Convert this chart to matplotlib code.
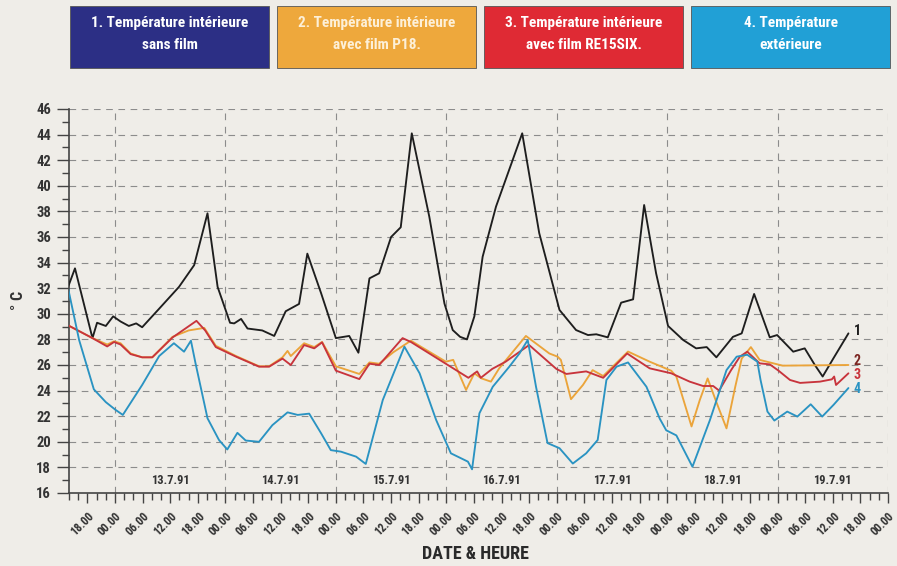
import matplotlib
matplotlib.use("Agg")
import matplotlib.pyplot as plt
from matplotlib import font_manager
from matplotlib.patches import Rectangle
from matplotlib.ticker import MultipleLocator, FixedLocator

# hours counted from 12.7.91 00.00
h1 = [13.8, 15.3, 19.1, 20.1, 22.0, 23.6, 25.2, 27.0, 28.6, 29.9, 33.6, 37.9, 41.2, 44.1,
      46.3, 49.0, 49.9, 51.4, 52.8, 56.0, 58.6, 61.1, 64.0, 65.8, 68.8, 72.0, 74.9, 76.9,
      79.3, 81.4, 84.0, 86.1, 88.5, 92.3, 95.6, 97.4, 99.0, 100.5, 102.1, 103.9, 106.8, 112.5,
      116.2, 120.6, 124.2, 126.8, 128.6, 131.1, 134.0, 136.6, 139.0, 141.6, 144.2, 147.5,
      150.3, 152.6, 154.7, 158.3, 160.2, 162.9, 166.3, 167.9, 171.4, 173.9, 176.1, 177.8,
      180.1, 183.4]
t1 = [32.1, 33.55, 28.1, 29.3, 29.05, 29.8, 29.4, 29.05, 29.25, 28.95, 30.4, 32.1, 33.8, 37.85,
      32.1, 29.3, 29.25, 29.6, 28.85, 28.7, 28.27, 30.2, 30.77, 34.7, 31.6, 28.1, 28.27, 26.96,
      32.77, 33.16, 36.0, 36.76, 44.1, 37.6, 30.8, 28.73, 28.2, 28.0, 29.8, 34.46, 38.37, 44.1,
      36.3, 30.3, 28.73, 28.34, 28.4, 28.16, 30.87, 31.13, 38.5, 33.16, 29.05, 27.95,
      27.3, 27.4, 26.6, 28.2, 28.47, 31.55, 28.16, 28.34, 27.04, 27.3, 26.0, 25.1,
      26.5, 28.47]

h2 = [13.8, 19.1, 22.3, 23.8, 25.2, 27.4, 29.9, 32.1, 36.5, 40.0, 43.4, 45.9, 50.3, 55.3,
      57.5, 60.4, 61.5, 62.2, 65.1, 67.3, 69.0, 72.0, 77.1, 79.3, 81.4, 84.5, 88.3, 95.9,
      97.5, 100.3, 102.1, 103.6, 105.7, 107.5, 113.3, 118.4, 120.2, 120.9, 123.1, 125.7,
      127.8, 130.1, 135.5, 140.2, 144.9, 146.0, 149.3, 151.1, 152.8, 154.7, 156.9, 158.8,
      160.2, 162.2, 164.1, 166.3, 169.1, 183.4]
t2 = [29.1, 28.1, 27.6, 27.85, 27.7, 26.9, 26.6, 26.6, 28.2, 28.7, 28.9, 27.5, 26.7, 25.9,
      25.9, 26.6, 27.1, 26.7, 27.7, 27.4, 27.8, 25.9, 25.3, 26.2, 26.1, 27.0, 27.9, 26.26,
      26.4, 24.05, 25.35, 24.96, 24.7, 25.74, 28.27, 26.9, 26.65, 26.4, 23.33, 24.44,
      25.6, 25.14, 27.05, 26.26, 25.55, 25.1, 21.2, 23.27, 24.95, 23.1, 21.05, 24.3,
      26.5, 27.4, 26.4, 26.2, 25.95, 26.0]

h3 = [13.8, 19.1, 22.3, 23.8, 25.2, 27.4, 29.9, 32.1, 36.5, 41.7, 43.6, 45.9, 50.3, 55.3,
      57.5, 60.4, 62.2, 65.1, 67.3, 69.0, 72.0, 77.1, 79.3, 81.4, 86.5, 88.3, 100.8, 102.7,
      103.5, 106.0, 108.9, 114.0, 119.9, 122.1, 126.4, 130.1, 135.3, 140.2, 144.9, 148.9,
      151.8, 154.0, 155.3, 157.9, 159.8, 161.4, 164.1, 166.3, 168.2, 170.7, 172.9, 177.2,
      179.8, 180.3, 180.7, 183.4]
t3 = [29.1, 28.1, 27.45, 27.8, 27.6, 26.85, 26.6, 26.6, 28.15, 29.45, 28.7, 27.4, 26.65, 25.87,
      25.87, 26.5, 26.0, 27.56, 27.3, 27.77, 25.56, 24.9, 26.1, 26.0, 28.1, 27.8, 25.0, 25.5,
      25.0, 25.7, 26.26, 27.56, 25.7, 25.3, 25.5, 25.0, 26.9, 25.74, 25.35, 24.7,
      24.36, 24.36, 24.0, 25.6, 26.65, 27.04, 26.13, 26.05, 25.56, 24.83, 24.6, 24.7,
      24.88, 25.1, 24.44, 25.35]

h4 = [13.8, 16.2, 19.4, 22.0, 24.1, 25.7, 29.9, 33.6, 36.8, 39.0, 40.5, 41.5, 44.1, 46.6,
      48.4, 50.6, 52.4, 55.3, 58.2, 61.5, 63.7, 66.2, 68.8, 70.9, 73.1, 76.4, 78.5, 82.2,
      86.9, 90.2, 93.8, 97.0, 100.7, 101.6, 103.2, 106.1, 109.7, 111.9, 113.7, 115.5, 118.0,
      120.6, 123.5, 126.4, 128.9, 130.8, 133.0, 135.5, 139.5, 142.4, 143.8, 146.0, 149.5,
      153.3, 156.9, 159.1, 161.4, 163.6, 164.3, 165.8, 167.3, 170.1, 172.3, 175.2, 177.7,
      180.2, 183.4]
t4 = [32.0, 27.95, 24.1, 23.1, 22.5, 22.1, 24.44, 26.7, 27.7, 27.04, 27.9, 26.13, 21.84, 20.14,
      19.4, 20.7, 20.1, 20.0, 21.3, 22.3, 22.1, 22.2, 20.66, 19.35, 19.23, 18.84, 18.27, 23.27,
      27.43, 25.35, 21.7, 19.1, 18.45, 17.85, 22.23, 24.3, 25.87, 26.9, 27.95, 24.3, 19.9,
      19.5, 18.3, 19.1, 20.14, 24.83, 25.87, 26.2, 24.3, 21.8, 20.9, 20.5, 18.05,
      21.7, 25.6, 26.65, 26.8, 26.26, 24.83, 22.36, 21.66, 22.36, 21.97, 22.93, 21.97,
      22.9, 24.2]

legend_texts = ["1. Température intérieure\nsans film",
                "2. Température intérieure\navec film P18.",
                "3. Température intérieure\navec film RE15SIX.",
                "4. Température\nextérieure"]
legend_colors = ["#2c2f85", "#eea83c", "#df2a34", "#21a0d6"]
legend_text_colors = ["white", "#fdf0d8", "white", "white"]

line_colors = ["#1e1e1e", "#eba43a", "#c8343c", "#2a93c2"]
end_labels = ["1", "2", "3", "4"]
end_label_colors = ["#1e1e1e", "#7c2622", "#c8343c", "#2a93c2"]
end_label_y = [28.65, 26.35, 25.25, 24.1]

days = ["13.7.91", "14.7.91", "15.7.91", "16.7.91", "17.7.91", "18.7.91", "19.7.91"]
day_centres = [36, 60, 84, 108, 132, 156, 180]
hour_ticks = list(range(18, 193, 6))
hour_labels = ["%02d.00" % (h % 24) for h in hour_ticks]

names = {f.name for f in font_manager.fontManager.ttflist}
font = "DejaVu Sans"
for cand in ["Roboto Condensed", "Liberation Sans Narrow", "Open Sans Condensed"]:
    if cand in names:
        font = cand
        break
plt.rcParams["font.family"] = [font, "DejaVu Sans"]

bg = "#efede8"
W, H = 897, 566
fig = plt.figure(figsize=(W / 100, H / 100), dpi=100, facecolor=bg)
ax = fig.add_axes([69 / W, 1 - 493 / H, (888 - 69) / W, (493 - 109) / H])
ax.set_facecolor(bg)

# legend boxes
box_x = [70, 277, 484, 691]
for x0, txt, col, tcol in zip(box_x, legend_texts, legend_colors, legend_text_colors):
    fig.add_artist(Rectangle((x0 / W, 1 - 68 / H), 199 / W, 62 / H,
                             transform=fig.transFigure, facecolor=col, edgecolor="#555555",
                             linewidth=0.6))
    fig.text((x0 + 100) / W, 1 - 34 / H, txt, ha="center", va="center",
             color=tcol, fontsize=11, fontweight="bold", linespacing=1.65)

for h, t, c in zip([h1, h2, h3, h4], [t1, t2, t3, t4], line_colors):
    ax.plot(h, t, color=c, lw=1.35, solid_joinstyle="round", solid_capstyle="round", zorder=3)

for lab, c, y in zip(end_labels, end_label_colors, end_label_y):
    ax.text(184.6, y, lab, color=c, fontsize=10, fontweight="bold", va="center", ha="left")

for d, xc in zip(days, day_centres):
    ax.text(xc, 17.0, d, ha="center", va="center", fontsize=9, fontweight="bold", color="#333333")

ax.set_xlim(14, 192)
ax.set_ylim(16, 46)

for y in range(18, 47, 2):
    ax.axhline(y, color="#8c8c8c", lw=0.8, dashes=(6, 5), zorder=1)
for x in range(24, 193, 24):
    ax.axvline(x, color="#8c8c8c", lw=0.8, dashes=(6, 6), zorder=1)

ax.xaxis.set_major_locator(FixedLocator(hour_ticks))
ax.set_xticklabels(hour_labels, rotation=45, ha="right", rotation_mode="anchor",
                   fontsize=8.5, fontweight="bold", color="#333333")
ax.xaxis.set_minor_locator(MultipleLocator(2))
ax.yaxis.set_major_locator(MultipleLocator(2))
ax.yaxis.set_minor_locator(MultipleLocator(1))
ax.tick_params(axis="y", which="major", length=9, width=1.0, color="#444444",
               labelsize=10.5, labelcolor="#333333", pad=4)
ax.tick_params(axis="y", which="minor", length=5, width=1.0, color="#444444")
ax.tick_params(axis="x", which="major", length=7, width=1.0, color="#444444", pad=5)
ax.tick_params(axis="x", which="minor", length=5, width=1.0, color="#444444")
for lab in ax.get_yticklabels():
    lab.set_fontweight("bold")

for s in ["top", "right"]:
    ax.spines[s].set_visible(False)
for s in ["left", "bottom"]:
    ax.spines[s].set_color("#444444")
    ax.spines[s].set_linewidth(1.2)

fig.text(18 / W, 1 - 300 / H, "° C", rotation=90, ha="center", va="center",
         fontsize=11.5, fontweight="bold", color="#333333")
fig.text(475 / W, 1 - 554 / H, "DATE & HEURE", ha="center", va="center",
         fontsize=13, fontweight="bold", color="#2a2a2a")

fig.savefig("out.png", dpi=100, facecolor=bg)
